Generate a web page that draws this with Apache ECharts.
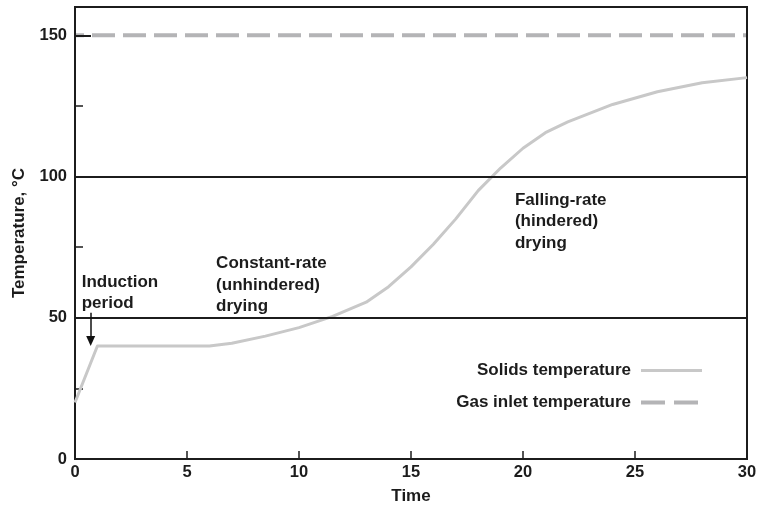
<!DOCTYPE html>
<html>
<head>
<meta charset="utf-8">
<script src="https://cdn.jsdelivr.net/npm/echarts@6/dist/echarts.min.js"></script>
<style>
  html, body { margin: 0; padding: 0; background: #fff; }
  #chart { width: 760px; height: 513px; }
</style>
</head>
<body>
<div id="chart"></div>
<script>
// Drying curve: solids temperature vs time, with the gas inlet temperature
const solidsTime = [0, 1, 6, 7, 8.5, 10, 11.5, 13, 14, 15, 16, 17, 18, 19, 20, 21, 22, 24, 26, 28, 30];
const solidsTemp = [20, 40, 40, 41, 43.5, 46.5, 50.5, 55.5, 61, 68, 76, 85, 95, 103, 110, 115.5, 119.3, 125.5, 130, 133.2, 135];
const gasTime = [0, 30];
const gasTemp = [150, 150];
const gridLineValues = [50, 100];

// Region labels, anchored at the top-left of each text block (time, temperature)
const noteTexts = ['Induction\nperiod', 'Constant-rate\n(unhindered)\ndrying', 'Falling-rate\n(hindered)\ndrying'];
const noteAnchors = [[0.3, 66.4], [6.3, 72.9], [19.64, 95.4]];
// Arrow pointing at the end of the induction period
const arrowFrom = [0.7, 51.8];
const arrowTo = [0.7, 41.8];

const FONT = "'Liberation Sans', Arial, Helvetica, sans-serif";
const INK = '#1c1c1c';

const solidsData = solidsTime.map((t, i) => [t, solidsTemp[i]]);
const gasData = gasTime.map((t, i) => [t, gasTemp[i]]);

const chart = echarts.init(document.getElementById('chart'), null, { renderer: 'canvas' });

const option = {
  animation: false,
  backgroundColor: '#fff',
  textStyle: { fontFamily: FONT },
  grid: {
    left: 75, right: 13, top: 7, bottom: 54,
    show: true, borderColor: INK, borderWidth: 2, backgroundColor: 'transparent'
  },
  xAxis: {
    type: 'value', min: 0, max: 30, interval: 5,
    name: 'Time', nameLocation: 'middle', nameGap: 29,
    nameTextStyle: { fontSize: 17, fontWeight: 'bold', color: INK, fontFamily: FONT },
    axisLine: { lineStyle: { color: INK, width: 2 } },
    axisTick: { inside: true, length: 8, lineStyle: { color: INK, width: 1.5 } },
    axisLabel: { margin: 5, fontSize: 16.5, fontWeight: 'bold', color: INK, fontFamily: FONT },
    splitLine: { show: false }
  },
  yAxis: {
    type: 'value', min: 0, max: 160, interval: 50,
    name: 'Temperature, °C', nameLocation: 'middle', nameGap: 47, nameRotate: 90,
    nameTextStyle: { fontSize: 17, fontWeight: 'bold', color: INK, fontFamily: FONT },
    axisLine: { lineStyle: { color: INK, width: 2 } },
    axisTick: { inside: true, length: 16, lineStyle: { color: INK, width: 2 } },
    minorTick: { show: true, splitNumber: 2, length: 8, lineStyle: { color: INK, width: 1.5 } },
    axisLabel: {
      margin: 8, fontSize: 16.5, fontWeight: 'bold', color: INK, fontFamily: FONT,
      formatter: v => (v % 50 === 0 ? String(v) : '')
    },
    splitLine: { show: false }
  },
  legend: {
    orient: 'vertical', right: 51, top: 357, align: 'right',
    itemWidth: 61, itemHeight: 14, itemGap: 15,
    itemStyle: { opacity: 0 },
    textStyle: { fontSize: 17, fontWeight: 'bold', color: INK, fontFamily: FONT, padding: [0, 5, 0, 0] },
    data: [
      { name: 'Solids temperature', lineStyle: { width: 3 } },
      { name: 'Gas inlet temperature', lineStyle: { width: 4, type: [24, 9], dashOffset: 0 } }
    ]
  },
  series: [
    {
      name: 'Gas inlet temperature',
      type: 'line', z: -1, symbol: 'none', silent: true,
      data: gasData,
      lineStyle: { color: '#b4b4b6', width: 4, type: [23, 8], dashOffset: 14, cap: 'butt' },
      itemStyle: { color: '#b4b4b6' }
    },
    {
      name: 'Horizontal rules',
      type: 'line', z: 1, symbol: 'none', silent: true, data: [],
      markLine: {
        silent: true, symbol: ['none', 'none'], label: { show: false },
        lineStyle: { color: INK, width: 2, type: 'solid' },
        data: gridLineValues.map(v => ({ yAxis: v }))
      }
    },
    {
      name: 'Solids temperature',
      type: 'line', z: 3, symbol: 'none', silent: true,
      data: solidsData,
      lineStyle: { color: '#c8c8c8', width: 3, join: 'round' },
      itemStyle: { color: '#c8c8c8' },
      markLine: {
        silent: true, symbol: ['none', 'triangle'], symbolSize: [9, 10],
        label: { show: false },
        lineStyle: { color: '#111', width: 1.5, type: 'solid' },
        data: [[{ coord: arrowFrom }, { coord: arrowTo }]]
      }
    }
  ]
};

chart.setOption(option);

// Place the region labels in data coordinates
chart.setOption({
  graphic: noteTexts.map((text, i) => {
    const p = chart.convertToPixel({ gridIndex: 0 }, noteAnchors[i]);
    return {
      type: 'text', x: p[0], y: p[1], z: 50, silent: true,
      style: {
        text, fill: INK, font: 'bold 17px ' + FONT,
        lineHeight: 21.5, verticalAlign: 'top', align: 'left'
      }
    };
  })
});
</script>
</body>
</html>
